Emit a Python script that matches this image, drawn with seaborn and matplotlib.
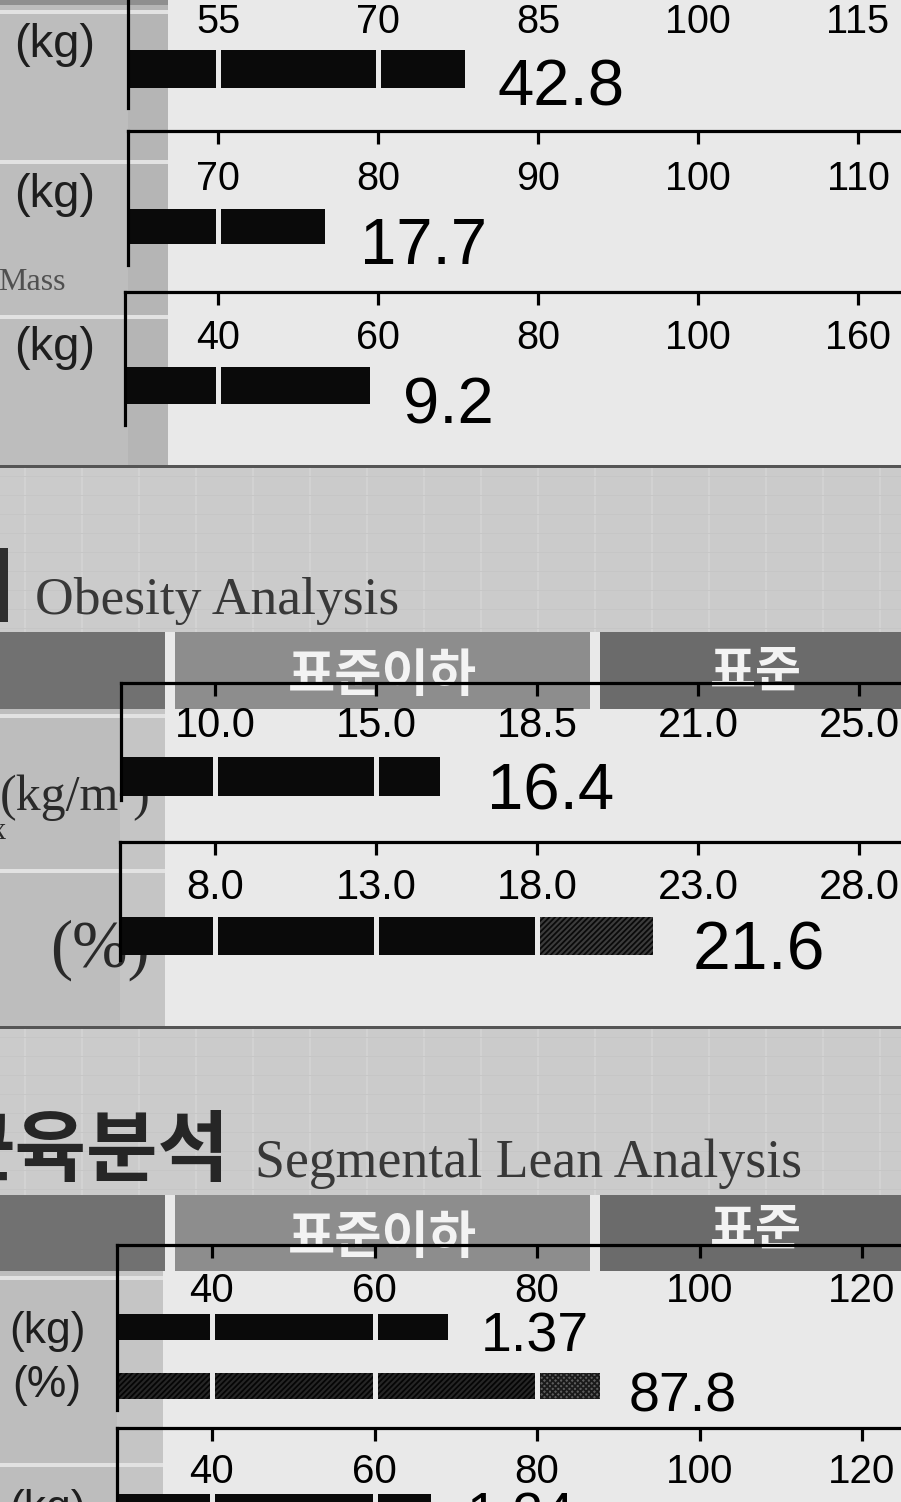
import numpy as np
import pandas as pd
import matplotlib
matplotlib.use('Agg')
import matplotlib.pyplot as plt
import seaborn as sns
from matplotlib.patches import Rectangle

# ---- data ----
weight_ticks = [55, 70, 85, 100, 115]
weight_pct = 78.2
weight_kg = '42.8'

smm_ticks = [70, 80, 90, 100, 110]
smm_pct = 76.7
smm_kg = '17.7'

fat_ticks = [40, 60, 80, 100, 160]
fat_pct = 59.0
fat_kg = '9.2'

bmi_ticks = [10.0, 15.0, 18.5, 21.0, 25.0]
bmi = 16.4

pbf_ticks = [8.0, 13.0, 18.0, 23.0, 28.0]
pbf = 21.6
pbf_split = 18.0

seg_ticks = [40, 60, 80, 100, 120]
seg_split = 80
arm1_pct = 69.0
arm1_kg = '1.37'
arm1_eval = 87.8
arm2_pct = 67.0
arm2_kg = '1.24'

sns.set_theme(style='white')
plt.rcParams['font.family'] = ['Liberation Sans', 'Noto Sans CJK KR', 'DejaVu Sans']
plt.rcParams['hatch.linewidth'] = 1.3

W, H = 901, 1502
BG = '#e9e9e9'
COL = '#bdbdbd'
BAND = '#cbcbcb'
DARK = '#6b6b6b'
MID = '#8d8d8d'

fig = plt.figure(figsize=(W / 100, H / 100), dpi=100)
fig.patch.set_facecolor(BG)


def R(x, y, w, h, color, z=-10):
    fig.patches.append(Rectangle((x / W, 1 - (y + h) / H), w / W, h / H,
                                 transform=fig.transFigure, color=color, zorder=z, lw=0))


def T(x, y, s, **kw):
    kw.setdefault('zorder', -1)
    fig.text(x / W, 1 - y / H, s, **kw)


# backgrounds
R(0, 0, 168, 466, COL)
R(128, 0, 40, 466, '#b5b5b5')
R(0, 0, 168, 5, '#8f8f8f')
for yy in (10, 160, 315):
    R(0, yy, 168, 4, '#e2e2e2')
R(0, 465, W, 3, '#555555')
R(0, 468, W, 164, BAND)
R(0, 708, 165, 320, COL)
R(120, 708, 45, 320, '#c5c5c5')
for yy in (714, 869):
    R(0, yy, 165, 4, '#e2e2e2')
R(0, 1026, W, 3, '#555555')
R(0, 1029, W, 166, BAND)
R(0, 1270, 163, 240, COL)
R(117, 1270, 46, 240, '#c5c5c5')
for yy in (1276, 1463):
    R(0, yy, 163, 4, '#e2e2e2')
# faint paper grid in the title bands
for y0, y1 in ((468, 632), (1029, 1195)):
    for xx in range(24, W, 57):
        R(xx, y0, 2, y1 - y0, '#d2d2d2', z=-9)
    for yy in range(y0 + 8, y1, 19):
        R(0, yy, W, 1, '#c6c6c6', z=-9)
# header bands
for y0, hh in ((632, 77), (1195, 76)):
    R(0, y0, 165, hh, '#717171', z=-8)
    R(175, y0, 415, hh, MID, z=-8)
    R(600, y0, 301, hh, DARK, z=-8)
R(0, 548, 8, 74, '#2e2e2e', z=-8)


def make_panel(top, bottom, spine_x, t0, dt, ticks, rows, hpx):
    ax = fig.add_axes([spine_x / W, 1 - bottom / H, (W + 10 - spine_x) / W, (bottom - top) / H])
    ax.patch.set_visible(False)
    off = (t0 - spine_x) / dt
    pos = off + np.arange(len(ticks))
    s = (rows[1] - rows[0]) if len(rows) > 1 else hpx / 0.5
    bw = hpx / s
    return dict(ax=ax, off=off, pos=pos, ticks=ticks, s=s, bw=bw,
                top=top, bottom=bottom, c0=rows[0], xmax=(W + 10 - spine_x) / dt)


def finish_panel(p, labels, fs, lab_off):
    ax = p['ax']
    ax.set_xlim(0, p['xmax'])
    ax.set_ylim((p['bottom'] - p['c0']) / p['s'], (p['top'] - p['c0']) / p['s'])
    ax.set_yticks([])
    ax.set_xlabel('')
    ax.set_ylabel('')
    for sp in ('right', 'bottom'):
        ax.spines[sp].set_visible(False)
    for sp in ('top', 'left'):
        ax.spines[sp].set_color('black')
        ax.spines[sp].set_linewidth(2.3)
    ax.xaxis.set_ticks_position('top')
    ax.tick_params(axis='x', direction='in', length=9, width=2.3, color='black',
                   pad=-lab_off * 0.72, labelsize=fs, labelcolor='black',
                   top=True, bottom=False, labeltop=True, labelbottom=False)
    ax.set_xticks(p['pos'], labels, va='center')


def draw_row(p, order, row, value, text, fs, dx, dy, split=None,
             main=None, over=None):
    ax = p['ax']
    idx = np.arange(len(p['ticks']))
    xv = p['off'] + np.interp(value, p['ticks'], idx)
    main = main or dict(color='#0a0a0a')
    kw = dict(y='row', order=order, orient='h', ax=ax, width=p['bw'],
              saturation=1, errorbar=None, linewidth=0)
    if split is not None and value > split:
        xs = p['off'] + np.interp(split, p['ticks'], idx)
        sns.barplot(data=pd.DataFrame({'v': [xv], 'row': [row]}), x='v', **kw, **over)
        sns.barplot(data=pd.DataFrame({'v': [xs], 'row': [row]}), x='v', **kw, **main)
    else:
        sns.barplot(data=pd.DataFrame({'v': [xv], 'row': [row]}), x='v', **kw, **main)
    yi = order.index(row)
    gaps = [t for t in p['pos'] if t < xv - 0.02]
    ax.vlines(gaps, yi - p['bw'] / 2 - 0.03, yi + p['bw'] / 2 + 0.03,
              color=BG, lw=3.6, zorder=5)
    ax.annotate(text, xy=(xv, yi), xytext=(dx * 0.72, -dy * 0.72),
                textcoords='offset points', ha='left', va='center',
                fontsize=fs, color='black', zorder=6)


# ---- body composition rows ----
p1 = make_panel(-26, 108, 128, 218, 160, weight_ticks, [69], 38)
draw_row(p1, ['w'], 'w', weight_pct, weight_kg, 47, 32, 19)
finish_panel(p1, [str(v) for v in weight_ticks], 28.5, 48)

p2 = make_panel(131, 265, 128, 218, 160, smm_ticks, [226], 35)
draw_row(p2, ['m'], 'm', smm_pct, smm_kg, 47, 35, 21)
finish_panel(p2, [str(v) for v in smm_ticks], 28.5, 48)

p3 = make_panel(292, 425, 125, 218, 160, fat_ticks, [385], 37)
draw_row(p3, ['f'], 'f', fat_pct, fat_kg, 47, 33, 22)
finish_panel(p3, [str(v) for v in fat_ticks], 28.5, 46)

# ---- obesity rows ----
p4 = make_panel(683, 800, 121, 215, 161, bmi_ticks, [776], 39)
draw_row(p4, ['b'], 'b', bmi, f'{bmi:.1f}', 47, 47, 16)
finish_panel(p4, [f'{v:.1f}' for v in bmi_ticks], 30, 43)

p5 = make_panel(842, 960, 120, 215, 161, pbf_ticks, [936], 38)
draw_row(p5, ['p'], 'p', pbf, f'{pbf:.1f}', 49, 40, 16, split=pbf_split,
         over=dict(color='#3c3c3c', edgecolor='#0a0a0a', hatch='//////'))
finish_panel(p5, [f'{v:.1f}' for v in pbf_ticks], 30, 46)

# ---- segmental lean rows ----
seg_order = ['kg', '%']
p6 = make_panel(1245, 1410, 117, 212, 162.5, seg_ticks, [1327, 1386], 26)
draw_row(p6, seg_order, 'kg', arm1_pct, arm1_kg, 40, 33, 10)
draw_row(p6, seg_order, '%', arm1_eval, f'{arm1_eval:.1f}', 40, 28, 11, split=seg_split,
         main=dict(color='#262626', edgecolor='#050505', hatch='//////'),
         over=dict(color='#5e5e5e', edgecolor='#1a1a1a', hatch='xxxxxx'))
finish_panel(p6, [str(v) for v in seg_ticks], 29, 46)

p7 = make_panel(1428, 1620, 117, 212, 162.5, seg_ticks, [1507], 26)
draw_row(p7, ['kg'], 'kg', arm2_pct, arm2_kg, 40, 35, 10)
finish_panel(p7, [str(v) for v in seg_ticks], 29, 44)

# ---- labels / titles ----
for yy in (45, 195, 348):
    T(55, yy, '(kg)', fontsize=34, ha='center', va='center', color='#1e1e1e')
T(66, 283, 'Mass', fontsize=23, ha='right', va='center', color='#505050',
  family=['Liberation Serif'])
T(35, 601, 'Obesity Analysis', fontsize=38.5, ha='left', va='center', color='#383838',
  family=['Liberation Serif'])
for yy, lab in ((676, '표준이하'), (1238, '표준이하')):
    T(382, yy, lab, fontsize=37, ha='center', va='center', color='#f3f3f3',
      family=['Noto Sans CJK KR'], weight='bold')
for yy in (672, 1230):
    T(756, yy, '표준', fontsize=36, ha='center', va='center', color='#f3f3f3',
      family=['Noto Sans CJK KR'], weight='bold')
T(0, 798, '(kg/m²)', fontsize=36, ha='left', va='center', color='#2a2a2a',
  family=['Liberation Serif', 'DejaVu Serif'])
T(6, 832, 'x', fontsize=22, ha='right', va='center', color='#2a2a2a',
  family=['Liberation Serif'])
T(50, 950, '(%)', fontsize=48, ha='left', va='center', color='#2a2a2a',
  family=['Liberation Serif'])
T(230, 1152, '근육분석', fontsize=56, ha='right', va='center', color='#262626',
  family=['Noto Sans CJK KR'], weight='bold')
T(255, 1164, 'Segmental Lean Analysis', fontsize=38.7, ha='left', va='center',
  color='#383838', family=['Liberation Serif'])
T(47, 1331, '(kg)', fontsize=32, ha='center', va='center', color='#1e1e1e')
T(47, 1386, '(%)', fontsize=32, ha='center', va='center', color='#1e1e1e')
T(47, 1510, '(kg)', fontsize=32, ha='center', va='center', color='#1e1e1e')

fig.savefig('out.png', dpi=100, facecolor=fig.get_facecolor())
